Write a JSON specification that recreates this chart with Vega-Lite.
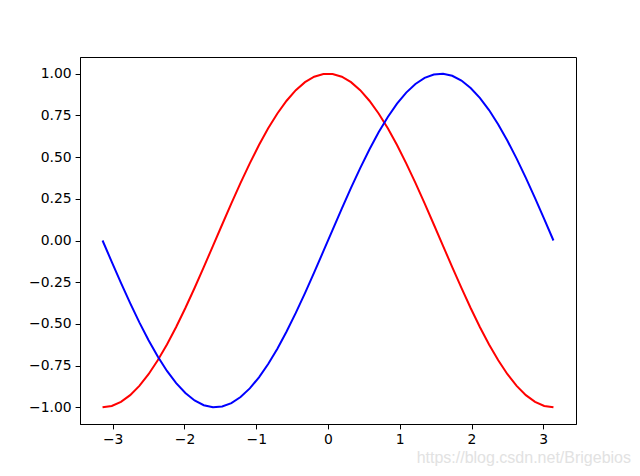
{
  "$schema": "https://vega.github.io/schema/vega-lite/v6.json",
  "autosize": {"type": "none"},
  "padding": {"left": 80, "top": 57, "right": 64, "bottom": 52},
  "width": 496,
  "height": 367,
  "background": "white",
  "title": {"text": "https://blog.csdn.net/Brigebios", "orient": "bottom", "anchor": "end", "color": "#e2e2e2", "font": "Liberation Sans", "fontSize": 16, "fontWeight": "normal", "dx": 55, "offset": 3},
  "config": {
    "view": {"stroke": "black", "strokeWidth": 1},
    "axis": {"grid": false, "domainColor": "black", "tickColor": "black", "labelColor": "black", "labelFont": "DejaVu Sans", "labelFontSize": 13.9, "tickSize": 4.9, "labelPadding": 4, "domainWidth": 1, "tickWidth": 1, "title": null}
  },
  "data": {"values": [
    {"x": -3.1416, "cos": -1.0, "sin": 0.0},
    {"x": -3.0134, "cos": -0.9918, "sin": -0.1279},
    {"x": -2.8851, "cos": -0.9673, "sin": -0.2537},
    {"x": -2.7569, "cos": -0.9269, "sin": -0.3753},
    {"x": -2.6287, "cos": -0.8713, "sin": -0.4907},
    {"x": -2.5005, "cos": -0.8014, "sin": -0.5981},
    {"x": -2.3722, "cos": -0.7183, "sin": -0.6957},
    {"x": -2.2440, "cos": -0.6235, "sin": -0.7818},
    {"x": -2.1158, "cos": -0.5184, "sin": -0.8551},
    {"x": -1.9875, "cos": -0.4048, "sin": -0.9144},
    {"x": -1.8593, "cos": -0.2845, "sin": -0.9587},
    {"x": -1.7311, "cos": -0.1596, "sin": -0.9872},
    {"x": -1.6029, "cos": -0.0321, "sin": -0.9995},
    {"x": -1.4746, "cos": 0.0960, "sin": -0.9954},
    {"x": -1.3464, "cos": 0.2225, "sin": -0.9749},
    {"x": -1.2182, "cos": 0.3454, "sin": -0.9385},
    {"x": -1.0899, "cos": 0.4625, "sin": -0.8866},
    {"x": -0.9617, "cos": 0.5721, "sin": -0.8202},
    {"x": -0.8335, "cos": 0.6723, "sin": -0.7403},
    {"x": -0.7053, "cos": 0.7614, "sin": -0.6483},
    {"x": -0.5770, "cos": 0.8379, "sin": -0.5458},
    {"x": -0.4488, "cos": 0.9010, "sin": -0.4339},
    {"x": -0.3206, "cos": 0.9491, "sin": -0.3151},
    {"x": -0.1923, "cos": 0.9816, "sin": -0.1912},
    {"x": -0.0641, "cos": 0.9979, "sin": -0.0641},
    {"x": 0.0641, "cos": 0.9979, "sin": 0.0641},
    {"x": 0.1923, "cos": 0.9816, "sin": 0.1912},
    {"x": 0.3206, "cos": 0.9491, "sin": 0.3151},
    {"x": 0.4488, "cos": 0.9010, "sin": 0.4339},
    {"x": 0.5770, "cos": 0.8379, "sin": 0.5458},
    {"x": 0.7053, "cos": 0.7614, "sin": 0.6483},
    {"x": 0.8335, "cos": 0.6723, "sin": 0.7403},
    {"x": 0.9617, "cos": 0.5721, "sin": 0.8202},
    {"x": 1.0899, "cos": 0.4625, "sin": 0.8866},
    {"x": 1.2182, "cos": 0.3454, "sin": 0.9385},
    {"x": 1.3464, "cos": 0.2225, "sin": 0.9749},
    {"x": 1.4746, "cos": 0.0960, "sin": 0.9954},
    {"x": 1.6029, "cos": -0.0321, "sin": 0.9995},
    {"x": 1.7311, "cos": -0.1596, "sin": 0.9872},
    {"x": 1.8593, "cos": -0.2845, "sin": 0.9587},
    {"x": 1.9875, "cos": -0.4048, "sin": 0.9144},
    {"x": 2.1158, "cos": -0.5184, "sin": 0.8551},
    {"x": 2.2440, "cos": -0.6235, "sin": 0.7818},
    {"x": 2.3722, "cos": -0.7183, "sin": 0.6957},
    {"x": 2.5005, "cos": -0.8014, "sin": 0.5981},
    {"x": 2.6287, "cos": -0.8713, "sin": 0.4907},
    {"x": 2.7569, "cos": -0.9269, "sin": 0.3753},
    {"x": 2.8851, "cos": -0.9673, "sin": 0.2537},
    {"x": 3.0134, "cos": -0.9918, "sin": 0.1279},
    {"x": 3.1416, "cos": -1.0, "sin": 0.0}
  ]},
  "encoding": {
    "x": {"field": "x", "type": "quantitative", "scale": {"domain": [-3.4558, 3.4558], "nice": false, "zero": false}, "axis": {"values": [-3, -2, -1, 0, 1, 2, 3], "format": "d"}}
  },
  "layer": [
    {
      "mark": {"type": "line", "color": "red", "strokeWidth": 2},
      "encoding": {
        "y": {"field": "cos", "type": "quantitative", "scale": {"domain": [-1.1, 1.1], "nice": false, "zero": false}, "axis": {"values": [-1, -0.75, -0.5, -0.25, 0, 0.25, 0.5, 0.75, 1], "format": ".2f"}}
      }
    },
    {
      "mark": {"type": "line", "color": "blue", "strokeWidth": 2},
      "encoding": {
        "y": {"field": "sin", "type": "quantitative"}
      }
    }
  ]
}
